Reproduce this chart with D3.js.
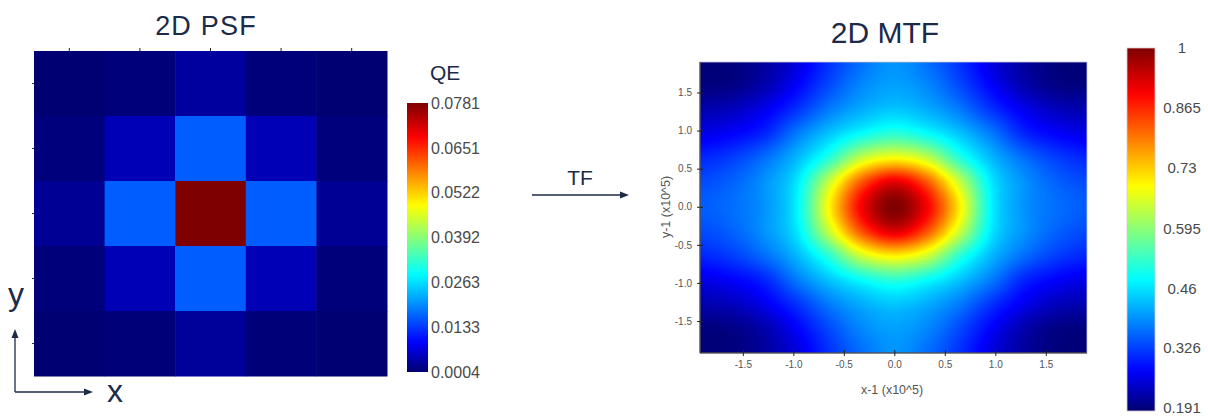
<!DOCTYPE html>
<html>
<head>
<meta charset="utf-8">
<script src="https://cdn.jsdelivr.net/npm/d3@7"></script>
<style>
  html, body { margin: 0; padding: 0; background: #fff; }
  svg { display: block; font-family: "Liberation Sans", Arial, sans-serif; }
</style>
</head>
<body>
<svg id="chart" width="1208" height="416"></svg>
<script>
// ---------------- DATA ----------------
// 2D PSF: 5x5 pixel grid (rows top -> bottom), QE values
const psfCols = [0, 1, 2, 3, 4];
const psfRows = [0, 1, 2, 3, 4];
const psfValues = [
  [0.0006, 0.0010, 0.0032, 0.0010, 0.0006],
  [0.0012, 0.0046, 0.0162, 0.0046, 0.0012],
  [0.0026, 0.0162, 0.0781, 0.0162, 0.0026],
  [0.0010, 0.0046, 0.0162, 0.0046, 0.0010],
  [0.0005, 0.0009, 0.0030, 0.0009, 0.0005]
];
const psfTickLabels = ["0.0004", "0.0133", "0.0263", "0.0392", "0.0522", "0.0651", "0.0781"];

// 2D MTF: sampled grid (x in x10^5, y rows top -> bottom)
const mtfX = [-1.92, -1.6, -1.28, -0.96, -0.64, -0.32, 0, 0.32, 0.64, 0.96, 1.28, 1.6, 1.92];
const mtfY = [1.92, 1.6, 1.28, 0.96, 0.64, 0.32, 0, -0.32, -0.64, -0.96, -1.28, -1.6, -1.92];
const mtfValues = [
  [0.195, 0.200, 0.220, 0.260, 0.320, 0.370, 0.400, 0.370, 0.320, 0.260, 0.220, 0.200, 0.195],
  [0.200, 0.205, 0.230, 0.280, 0.340, 0.390, 0.410, 0.390, 0.340, 0.280, 0.230, 0.205, 0.200],
  [0.230, 0.240, 0.270, 0.320, 0.380, 0.420, 0.440, 0.420, 0.380, 0.320, 0.270, 0.240, 0.230],
  [0.265, 0.280, 0.310, 0.380, 0.440, 0.490, 0.520, 0.490, 0.440, 0.380, 0.310, 0.280, 0.265],
  [0.310, 0.330, 0.370, 0.430, 0.520, 0.645, 0.690, 0.645, 0.520, 0.430, 0.370, 0.330, 0.310],
  [0.340, 0.360, 0.400, 0.470, 0.650, 0.830, 0.920, 0.830, 0.650, 0.470, 0.400, 0.360, 0.340],
  [0.355, 0.370, 0.400, 0.480, 0.700, 0.905, 1.000, 0.905, 0.710, 0.480, 0.400, 0.370, 0.355],
  [0.340, 0.360, 0.400, 0.470, 0.650, 0.835, 0.925, 0.835, 0.655, 0.470, 0.400, 0.360, 0.340],
  [0.310, 0.330, 0.370, 0.430, 0.525, 0.655, 0.705, 0.655, 0.525, 0.430, 0.370, 0.330, 0.310],
  [0.265, 0.280, 0.310, 0.380, 0.440, 0.490, 0.520, 0.490, 0.440, 0.380, 0.310, 0.280, 0.265],
  [0.230, 0.240, 0.270, 0.320, 0.380, 0.420, 0.440, 0.420, 0.380, 0.320, 0.270, 0.240, 0.230],
  [0.200, 0.205, 0.230, 0.280, 0.340, 0.390, 0.410, 0.390, 0.340, 0.280, 0.230, 0.205, 0.200],
  [0.195, 0.200, 0.220, 0.260, 0.320, 0.370, 0.400, 0.370, 0.320, 0.260, 0.220, 0.200, 0.195]
];
const mtfTicks = [-1.5, -1.0, -0.5, 0.0, 0.5, 1.0, 1.5];
const mtfTickLabels = ["-1.5", "-1.0", "-0.5", "0.0", "0.5", "1.0", "1.5"];
const mtfBarLabels = ["0.191", "0.326", "0.46", "0.595", "0.73", "0.865", "1"];

// jet-like colour map (ParaView "jet" preset)
const jetPos = [0, 0.111, 0.365, 0.492, 0.619, 0.873, 1];
const jetCol = ["#000070", "#0000ff", "#00ffff", "#80ff80", "#ffff00", "#ff0000", "#7f0000"];

// ---------------- DRAW ----------------
const svg = d3.select("#chart");
const navy = "#1c2b48";
const grey = "#4a4a4a";
const jet = d3.scaleLinear().domain(jetPos).range(jetCol).interpolate(d3.interpolateRgb).clamp(true);

// gradient for colour bars
const defs = svg.append("defs");
const grad = defs.append("linearGradient").attr("id", "jetGrad")
  .attr("x1", 0).attr("y1", 1).attr("x2", 0).attr("y2", 0);
grad.selectAll("stop").data(d3.range(0, 1.0001, 0.02)).join("stop")
  .attr("offset", d => d).attr("stop-color", d => jet(d));

// ===== PSF =====
const qeMin = +psfTickLabels[0], qeMax = +psfTickLabels[psfTickLabels.length - 1];
const psfColor = v => jet((v - qeMin) / (qeMax - qeMin));
const xP = d3.scaleBand().domain(psfCols).range([34, 387]);
const yP = d3.scaleBand().domain(psfRows).range([51, 376]);

svg.append("text").attr("x", 206).attr("y", 35).attr("text-anchor", "middle")
  .attr("font-size", 27).attr("letter-spacing", 1.2).attr("fill", navy).text("2D PSF");

const cells = [];
psfRows.forEach(r => psfCols.forEach(c => cells.push({ r, c, v: psfValues[r][c] })));
svg.append("g").selectAll("rect").data(cells).join("rect")
  .attr("x", d => xP(d.c)).attr("y", d => yP(d.r))
  .attr("width", xP.bandwidth() + 0.5).attr("height", yP.bandwidth() + 0.5)
  .attr("fill", d => psfColor(d.v));

const pTop = svg.append("g").attr("transform", "translate(0,51)")
  .call(d3.axisTop(xP).tickSize(3).tickFormat(""));
pTop.select(".domain").remove();
pTop.selectAll(".tick line").attr("stroke", "#222");
const pLeft = svg.append("g").attr("transform", "translate(34,0)")
  .call(d3.axisLeft(yP).tickSize(2).tickFormat(""));
pLeft.select(".domain").remove();
pLeft.selectAll(".tick line").attr("stroke", "#333");

// PSF colour bar
const yQE = d3.scaleLinear().domain([qeMin, qeMax]).range([372, 103]);
svg.append("rect").attr("x", 407).attr("y", yQE(qeMax)).attr("width", 21)
  .attr("height", yQE(qeMin) - yQE(qeMax)).attr("fill", "url(#jetGrad)");
const qeAxis = svg.append("g").attr("transform", "translate(428,0)")
  .call(d3.axisRight(yQE).tickValues(psfTickLabels.map(Number)).tickSize(0).tickPadding(3)
    .tickFormat((d, i) => psfTickLabels[i]));
qeAxis.select(".domain").remove();
qeAxis.selectAll("text").attr("font-size", 16).attr("fill", grey)
  .attr("font-family", "'Liberation Sans', Arial, sans-serif");
svg.append("text").attr("x", 430).attr("y", 80).attr("font-size", 21).attr("fill", navy).text("QE");

// x / y direction arrows
const arr = svg.append("g").attr("stroke", navy).attr("fill", navy);
arr.append("line").attr("x1", 15).attr("y1", 392).attr("x2", 15).attr("y2", 336).attr("stroke-width", 1.3);
arr.append("path").attr("d", "M15,329 L11.5,338 L18.5,338 Z").attr("stroke", "none");
arr.append("line").attr("x1", 15).attr("y1", 392).attr("x2", 85).attr("y2", 392).attr("stroke-width", 1.3);
arr.append("path").attr("d", "M93,392 L84,388.5 L84,395.5 Z").attr("stroke", "none");
svg.append("text").attr("x", 16).attr("y", 305).attr("text-anchor", "middle")
  .attr("font-size", 32).attr("fill", navy).text("y");
svg.append("text").attr("x", 115).attr("y", 402).attr("text-anchor", "middle")
  .attr("font-size", 32).attr("fill", navy).text("x");

// TF arrow
svg.append("text").attr("x", 580).attr("y", 185).attr("text-anchor", "middle")
  .attr("font-size", 21).attr("fill", navy).text("TF");
svg.append("line").attr("x1", 532).attr("y1", 195).attr("x2", 621).attr("y2", 195)
  .attr("stroke", navy).attr("stroke-width", 1.3);
svg.append("path").attr("d", "M629,195 L620,191.5 L620,198.5 Z").attr("fill", navy);

// ===== MTF =====
const mMin = +mtfBarLabels[0], mMax = +mtfBarLabels[mtfBarLabels.length - 1];
const mtfColor = v => jet((v - mMin) / (mMax - mMin));
const xM = d3.scaleLinear().domain([-1.924, 1.908]).range([700, 1087]);
const yM = d3.scaleLinear().domain([-1.92, 1.90]).range([353, 62]);

svg.append("text").attr("x", 885).attr("y", 43).attr("text-anchor", "middle")
  .attr("font-size", 30).attr("fill", navy).text("2D MTF");

// smooth rendering of the sampled grid (Catmull-Rom in value space)
function cr(p0, p1, p2, p3, t) {
  return 0.5 * ((2 * p1) + (-p0 + p2) * t + (2 * p0 - 5 * p1 + 4 * p2 - p3) * t * t +
    (-p0 + 3 * p1 - 3 * p2 + p3) * t * t * t);
}
const nx = mtfX.length, ny = mtfY.length;
const gx = d3.scaleLinear().domain(d3.extent(mtfX)).range([0, nx - 1]).clamp(true);
const gy = d3.scaleLinear().domain([mtfY[0], mtfY[ny - 1]]).range([0, ny - 1]).clamp(true);
const at = (i, j) => mtfValues[Math.max(0, Math.min(ny - 1, j))][Math.max(0, Math.min(nx - 1, i))];
function sample(xv, yv) {
  const fx = gx(xv), fy = gy(yv);
  const i = Math.min(nx - 2, Math.floor(fx)), j = Math.min(ny - 2, Math.floor(fy));
  const tx = fx - i, ty = fy - j;
  const rows = [-1, 0, 1, 2].map(dj => cr(at(i - 1, j + dj), at(i, j + dj), at(i + 1, j + dj), at(i + 2, j + dj), tx));
  return cr(rows[0], rows[1], rows[2], rows[3], ty);
}
const pw = Math.round(xM.range()[1] - xM.range()[0]);
const ph = Math.round(yM.range()[0] - yM.range()[1]);
const canvas = document.createElement("canvas");
canvas.width = pw; canvas.height = ph;
const ctx = canvas.getContext("2d");
const img = ctx.createImageData(pw, ph);
for (let py = 0; py < ph; py++) {
  const yv = yM.invert(yM.range()[1] + py + 0.5);
  for (let px = 0; px < pw; px++) {
    const xv = xM.invert(xM.range()[0] + px + 0.5);
    const c = d3.rgb(mtfColor(sample(xv, yv)));
    const k = (py * pw + px) * 4;
    img.data[k] = c.r; img.data[k + 1] = c.g; img.data[k + 2] = c.b; img.data[k + 3] = 255;
  }
}
ctx.putImageData(img, 0, 0);
svg.append("image").attr("x", xM.range()[0]).attr("y", yM.range()[1])
  .attr("width", pw).attr("height", ph).attr("preserveAspectRatio", "none")
  .attr("href", canvas.toDataURL());
svg.append("rect").attr("x", xM.range()[0]).attr("y", yM.range()[1]).attr("width", pw).attr("height", ph)
  .attr("fill", "none").attr("stroke", "#c8c8d8").attr("stroke-width", 0.8);

const xAx = svg.append("g").attr("transform", `translate(0,${yM.range()[0]})`)
  .call(d3.axisBottom(xM).tickValues(mtfTicks).tickSize(3).tickPadding(5)
    .tickFormat((d, i) => mtfTickLabels[i]));
xAx.select(".domain").attr("stroke", "#222").attr("d", `M${xM.range()[0]},0H${xM.range()[1]}`);
xAx.selectAll(".tick line").attr("y1", -3).attr("stroke", "#222");
xAx.selectAll("text").attr("font-size", 10).attr("fill", "#555")
  .attr("font-family", "'Liberation Sans', Arial, sans-serif");

const yAx = svg.append("g").attr("transform", `translate(${xM.range()[0]},0)`)
  .call(d3.axisLeft(yM).tickValues(mtfTicks).tickSize(3).tickPadding(5)
    .tickFormat((d, i) => mtfTickLabels[i]));
yAx.select(".domain").attr("stroke", "#222").attr("d", `M0,${yM.range()[1]}V${yM.range()[0]}`);
yAx.selectAll(".tick line").attr("x1", 3).attr("stroke", "#222");
yAx.selectAll("text").attr("font-size", 10).attr("fill", "#555")
  .attr("font-family", "'Liberation Sans', Arial, sans-serif");

svg.append("text").attr("x", 892).attr("y", 394).attr("text-anchor", "middle")
  .attr("font-size", 12.5).attr("fill", "#555").text("x-1 (x10^5)");
svg.append("text").attr("transform", "translate(670,207) rotate(-90)").attr("text-anchor", "middle")
  .attr("font-size", 12.5).attr("fill", "#555").text("y-1 (x10^5)");

// MTF colour bar
const yBar = d3.scaleLinear().domain([mMin, mMax]).range([408, 48]);
svg.append("rect").attr("x", 1127).attr("y", yBar(mMax)).attr("width", 28)
  .attr("height", yBar(mMin) - yBar(mMax) + 3).attr("fill", "url(#jetGrad)")
  .attr("stroke", "#d8c8cc").attr("stroke-width", 0.8);
const barAx = svg.append("g").attr("transform", "translate(1182,0)")
  .call(d3.axisRight(yBar).tickValues(mtfBarLabels.map(Number)).tickSize(0).tickPadding(0)
    .tickFormat((d, i) => mtfBarLabels[i]));
barAx.select(".domain").remove();
barAx.selectAll("text").attr("text-anchor", "middle").attr("font-size", 15).attr("fill", grey)
  .attr("font-family", "'Liberation Sans', Arial, sans-serif");
</script>
</body>
</html>
